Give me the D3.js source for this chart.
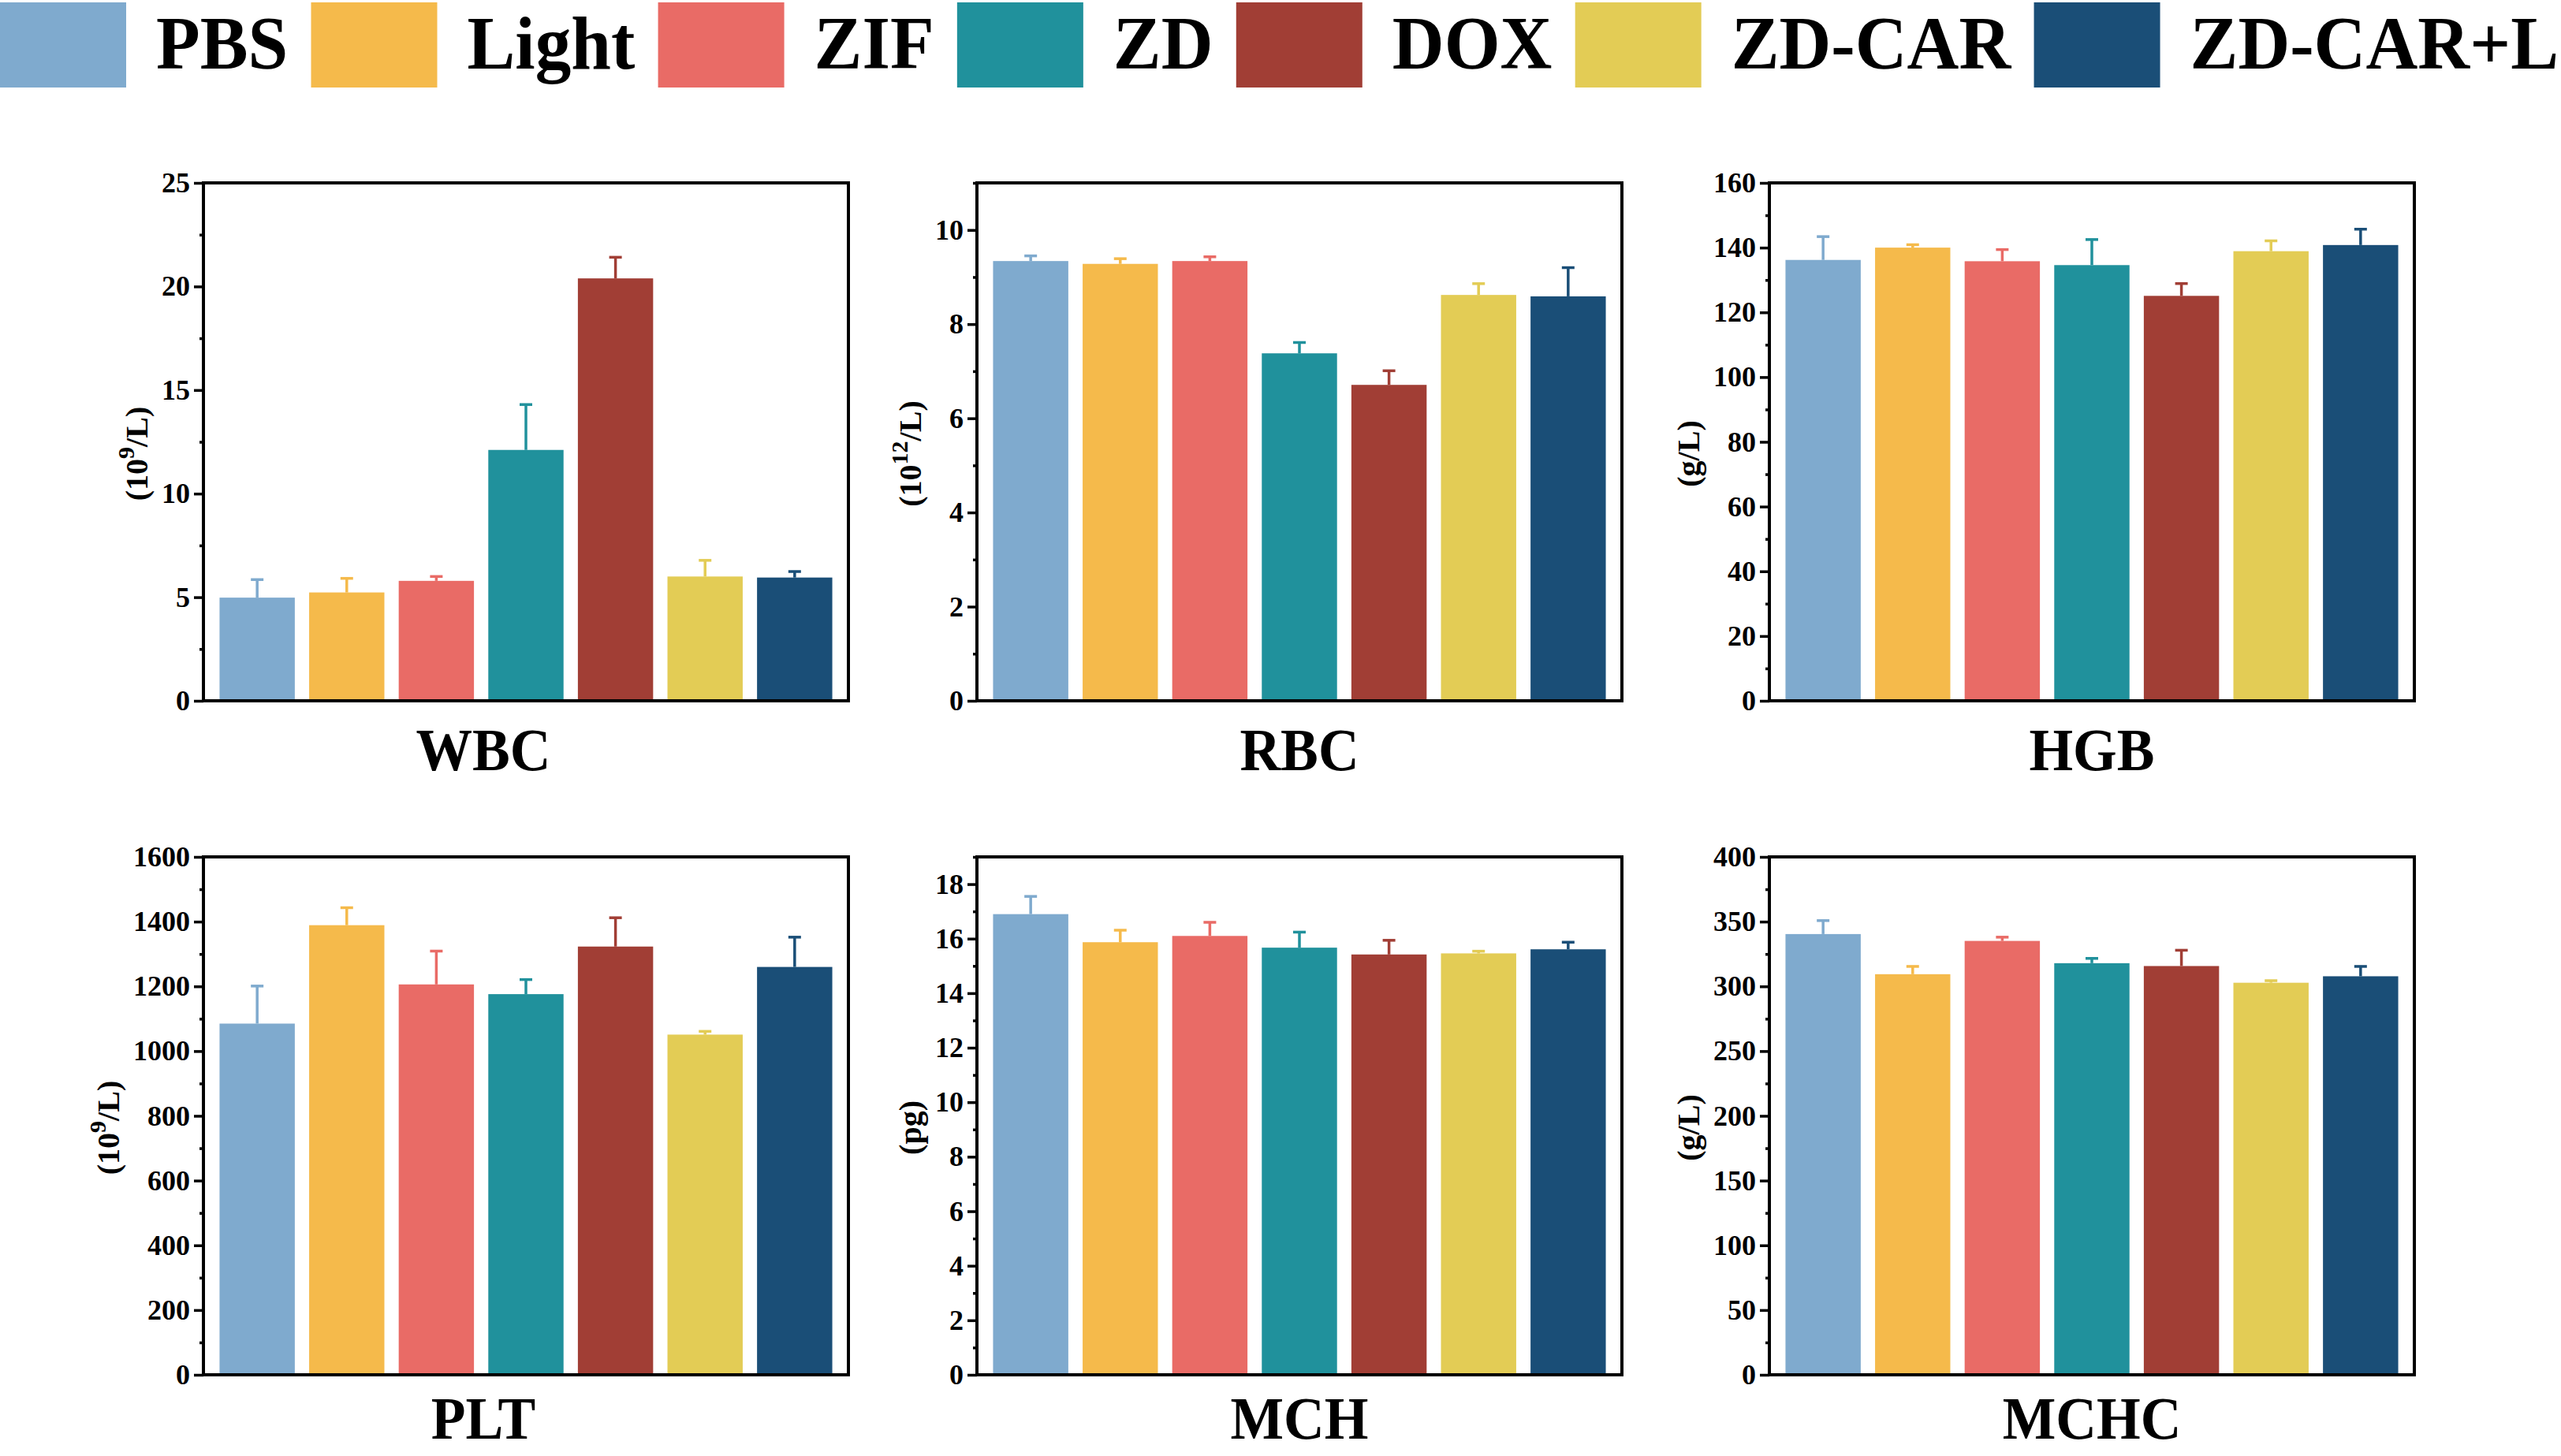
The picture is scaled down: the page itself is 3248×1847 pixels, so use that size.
<!DOCTYPE html>
<html>
<head>
<meta charset="utf-8">
<script src="https://cdn.jsdelivr.net/npm/d3@7"></script>
<style>
  body { margin: 0; background: #fff; }
  svg text { font-family: "Liberation Serif", "Tinos", "Times New Roman", "DejaVu Serif", serif; font-weight: bold; }
</style>
</head>
<body>
<script>
const groups = ["PBS", "Light", "ZIF", "ZD", "DOX", "ZD-CAR", "ZD-CAR+L"];
const colors = ["#7faace", "#f5ba4b", "#e96b66", "#20919c", "#a13e35", "#e3cc55", "#1a4e77"];

const metrics = ["WBC", "RBC", "HGB", "PLT", "MCH", "MCHC"];
const units = ["10|9|/L", "10|12|/L", "g/L", "10|9|/L", "pg", "g/L"];
const yMax = [25, 11, 160, 1600, 19, 400];
const majorStep = [5, 2, 20, 200, 2, 50];
const minorStep = [2.5, 1, 10, 100, 1, 25];

const wbcMean = [4.98, 5.23, 5.79, 12.11, 20.39, 6.0, 5.95];
const wbcErr = [0.87, 0.68, 0.21, 2.19, 1.02, 0.78, 0.29];
const rbcMean = [9.34, 9.28, 9.34, 7.38, 6.71, 8.62, 8.59];
const rbcErr = [0.11, 0.11, 0.09, 0.23, 0.30, 0.24, 0.61];
const hgbMean = [136.2, 140.0, 135.8, 134.6, 125.1, 138.9, 140.8];
const hgbErr = [7.2, 0.9, 3.6, 7.9, 3.8, 3.2, 4.9];
const pltMean = [1085, 1389, 1206, 1176, 1323, 1051, 1260];
const pltErr = [116, 54, 103, 45, 89, 10, 92];
const mchMean = [16.9, 15.87, 16.1, 15.67, 15.42, 15.46, 15.61];
const mchErr = [0.65, 0.44, 0.5, 0.57, 0.52, 0.08, 0.26];
const mchcMean = [340.4, 309.4, 335.1, 317.9, 315.7, 302.8, 307.8];
const mchcErr = [10.4, 6.0, 2.9, 3.7, 12.2, 1.6, 7.6];

const means = [wbcMean, rbcMean, hgbMean, pltMean, mchMean, mchcMean];
const errs = [wbcErr, rbcErr, hgbErr, pltErr, mchErr, mchcErr];

const W = 3248, H = 1847;
const colLeft = [258, 1239, 2244];
const rowTop = [232, 1087];
const frameW = 818, frameH = 657;
const titleDx = [-54, 0, 0];
const titleDy = [88, 81];

const svg = d3.select("body").append("svg")
    .attr("width", W).attr("height", H);

// legend, laid out left to right
const legendScale = 0.95;
const legend = svg.append("g").attr("class", "legend");
const items = groups.map((g, i) => {
    const item = legend.append("g");
    item.append("rect").attr("y", 3).attr("width", 160).attr("height", 108).attr("fill", colors[i]);
    const t = item.append("text").attr("font-size", 96).text(g);
    const w = t.node().getComputedTextLength() * legendScale;
    return { item, t, w };
});
const textOffset = 198;
const totalText = d3.sum(items, d => d.w);
const gap = (3245 - totalText - textOffset * groups.length) / (groups.length - 1);
let lx = 0;
items.forEach(d => {
    d.item.attr("transform", `translate(${lx},0)`);
    d.t.attr("transform", `translate(${textOffset},87) scale(${legendScale},1)`);
    lx += textOffset + d.w + gap;
});

metrics.forEach((name, k) => {
    const col = k % 3, row = Math.floor(k / 3);
    const x0 = colLeft[col], y0 = rowTop[row];
    const g = svg.append("g").attr("class", "panel-" + name);

    const x = d3.scaleBand().domain(groups)
        .range([x0, x0 + frameW]).paddingInner(0.16).paddingOuter(0.18);
    const y = d3.scaleLinear().domain([0, yMax[k]]).range([y0 + frameH, y0]);

    const data = groups.map((grp, i) => ({ grp, mean: means[k][i], err: errs[k][i], color: colors[i] }));

    g.selectAll("rect.bar").data(data).join("rect")
        .attr("class", "bar")
        .attr("x", d => x(d.grp))
        .attr("width", x.bandwidth())
        .attr("y", d => y(d.mean))
        .attr("height", d => y(0) - y(d.mean))
        .attr("fill", d => d.color);

    const cap = 8;
    const eb = g.selectAll("g.err").data(data).join("g").attr("class", "err")
        .attr("stroke", d => d.color).attr("stroke-width", 3.5);
    eb.append("line")
        .attr("x1", d => x(d.grp) + x.bandwidth() / 2)
        .attr("x2", d => x(d.grp) + x.bandwidth() / 2)
        .attr("y1", d => y(d.mean))
        .attr("y2", d => y(d.mean + d.err));
    eb.append("line")
        .attr("x1", d => x(d.grp) + x.bandwidth() / 2 - cap)
        .attr("x2", d => x(d.grp) + x.bandwidth() / 2 + cap)
        .attr("y1", d => y(d.mean + d.err))
        .attr("y2", d => y(d.mean + d.err));

    const majors = d3.range(0, yMax[k] + 1e-9, majorStep[k]);
    const minors = d3.range(0, yMax[k] + 1e-9, minorStep[k])
        .filter(v => !majors.some(m => Math.abs(m - v) < 1e-9));

    const minorAxis = g.append("g").attr("transform", `translate(${x0},0)`)
        .call(d3.axisLeft(y).tickValues(minors).tickSize(5).tickFormat(""));
    minorAxis.select(".domain").remove();
    minorAxis.selectAll("line").attr("stroke-width", 3.5);

    const axis = g.append("g").attr("transform", `translate(${x0},0)`)
        .call(d3.axisLeft(y).tickValues(majors).tickSize(12).tickPadding(5).tickFormat(d3.format("d")));
    axis.attr("font-family", null);
    axis.select(".domain").remove();
    axis.selectAll("line").attr("stroke-width", 3.5);
    axis.selectAll("text")
        .attr("font-size", 36)
        .attr("fill", "#000");

    g.append("rect")
        .attr("x", x0).attr("y", y0).attr("width", frameW).attr("height", frameH)
        .attr("fill", "none").attr("stroke", "#000").attr("stroke-width", 4);

    // rotated unit label with optional superscript
    const box = axis.node().getBBox();
    const parts = units[k].split("|");
    const lab = g.append("text")
        .attr("transform", `translate(${x0 + box.x - 32},${y0 + frameH / 2 + 15}) rotate(-90)`)
        .attr("text-anchor", "middle")
        .attr("dominant-baseline", "central")
        .attr("font-size", 40);
    if (parts.length === 3) {
        lab.append("tspan").text("(" + parts[0]);
        lab.append("tspan").attr("font-size", 30).attr("dy", -14).text(parts[1]);
        lab.append("tspan").attr("dy", 14).text(parts[2] + ")");
    } else {
        lab.text("(" + parts[0] + ")");
    }

    g.append("text")
        .attr("transform", `translate(${x0 + frameW / 2 + titleDx[col]},${y0 + frameH + titleDy[row]}) scale(0.93,1)`)
        .attr("text-anchor", "middle")
        .attr("font-size", 77)
        .text(name);
});
</script>
</body>
</html>
